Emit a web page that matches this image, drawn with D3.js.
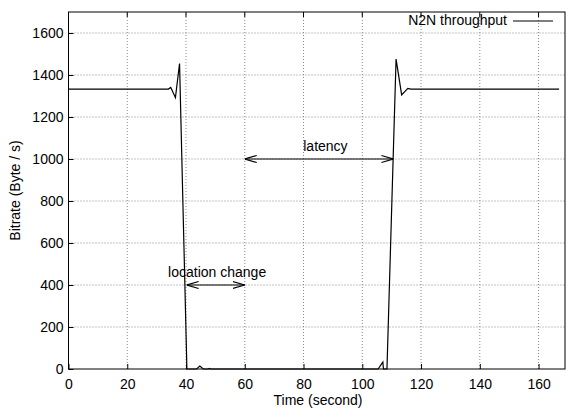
<!DOCTYPE html>
<html>
<head>
<meta charset="utf-8">
<script src="https://cdn.jsdelivr.net/npm/d3@7"></script>
<style>
  body { margin: 0; background: #fff; }
  svg { display: block; font-family: "Liberation Sans", Arial, sans-serif; }
</style>
</head>
<body>
<svg id="chart" width="566" height="409"></svg>
<script>
// N2N throughput over time
const times = [0, 34, 34.8, 36.4, 37.8, 40.3, 43.6, 44.7, 45.9, 47.6, 48, 48.4, 105.4, 107, 107.2, 108.4, 111.5, 113.4, 115.5, 116.5, 167];
const rates = [1333, 1333, 1341, 1292, 1455, 0, 0, 14, 0, 0, 3, 0, 0, 33, 0, 0, 1476, 1305, 1336, 1333, 1333];

const xTicks = [0, 20, 40, 60, 80, 100, 120, 140, 160];
const yTicks = [0, 200, 400, 600, 800, 1000, 1200, 1400, 1600];

// annotations: [x0, x1, y]
const latencyArrow = [60, 110.6, 1000];
const locationArrow = [40.2, 60, 400];

const svg = d3.select('#chart');
const margin = { left: 68.5, top: 12, right: 1, bottom: 40 };
const width = 566, height = 409;

const x = d3.scaleLinear().domain([0, 169]).range([margin.left, width - margin.right]);
const y = d3.scaleLinear().domain([0, 1700]).range([height - margin.bottom, margin.top]);

// grid
const grid = svg.append('g').attr('stroke', '#888').attr('stroke-dasharray', '1,2').attr('stroke-width', 1);
xTicks.slice(1).forEach(t => {
  grid.append('line').attr('x1', x(t)).attr('x2', x(t)).attr('y1', y(0)).attr('y2', y(1700));
});
yTicks.slice(1).forEach(t => {
  grid.append('line').attr('x1', x(0)).attr('x2', x(169)).attr('y1', y(t)).attr('y2', y(t));
});

// axes
const fmt = d3.format('d');
const xAxis = d3.axisBottom(x).tickValues(xTicks).tickFormat(fmt).tickSizeInner(-5).tickSizeOuter(0).tickPadding(10);
const yAxis = d3.axisLeft(y).tickValues(yTicks).tickFormat(fmt).tickSizeInner(-5).tickSizeOuter(0).tickPadding(5);
const gx = svg.append('g').attr('transform', `translate(0,${y(0)})`).call(xAxis);
const gy = svg.append('g').attr('transform', `translate(${x(0)},0)`).call(yAxis);
[gx, gy].forEach(g => {
  g.selectAll('text').attr('font-size', 14).attr('font-family', '"Liberation Sans", Arial, sans-serif').attr('fill', '#000');
  g.select('.domain').remove();
  g.selectAll('line').attr('stroke', '#000');
});
// mirrored ticks on top
xTicks.forEach(t => {
  svg.append('line').attr('x1', x(t)).attr('x2', x(t)).attr('y1', y(1700)).attr('y2', y(1700) + 5).attr('stroke', '#000');
});

// frame
svg.append('rect')
  .attr('x', x(0)).attr('y', y(1700))
  .attr('width', x(169) - x(0)).attr('height', y(0) - y(1700))
  .attr('fill', 'none').attr('stroke', '#000').attr('stroke-width', 1);

// data line
const line = d3.line().x((d, i) => x(times[i])).y(d => y(d));
svg.append('path')
  .datum(rates)
  .attr('d', line)
  .attr('fill', 'none')
  .attr('stroke', '#000')
  .attr('stroke-width', 1.2);

// arrows
const defs = svg.append('defs');
['start', 'end'].forEach(k => {
  defs.append('marker')
    .attr('id', 'head-' + k)
    .attr('viewBox', '0 0 12 10')
    .attr('refX', k === 'end' ? 12 : 0).attr('refY', 5)
    .attr('markerWidth', 12).attr('markerHeight', 10)
    .attr('markerUnits', 'userSpaceOnUse')
    .attr('orient', 'auto')
    .append('path')
    .attr('d', k === 'end' ? 'M0,1.5 L12,5 L0,8.5' : 'M12,1.5 L0,5 L12,8.5')
    .attr('fill', 'none').attr('stroke', '#000').attr('stroke-width', 1.2);
});
[latencyArrow, locationArrow].forEach(a => {
  svg.append('line')
    .attr('x1', x(a[0])).attr('x2', x(a[1]))
    .attr('y1', y(a[2])).attr('y2', y(a[2]))
    .attr('stroke', '#000').attr('stroke-width', 1.2)
    .attr('marker-start', 'url(#head-start)')
    .attr('marker-end', 'url(#head-end)');
});

svg.append('text').attr('x', x(79.9)).attr('y', y(1040)).attr('font-size', 14).text('latency');
svg.append('text').attr('x', x(33.9)).attr('y', y(440)).attr('font-size', 14).text('location change');

// legend
svg.append('text').attr('x', 507).attr('y', 25).attr('font-size', 14).attr('text-anchor', 'end').text('N2N throughput');
svg.append('line').attr('x1', 513).attr('x2', 553).attr('y1', 21).attr('y2', 21).attr('stroke', '#000').attr('stroke-width', 1.2);

// axis titles
svg.append('text').attr('x', 318).attr('y', 405).attr('font-size', 14).attr('text-anchor', 'middle').text('Time (second)');
svg.append('text')
  .attr('transform', `translate(20,${(y(0) + y(1700)) / 2}) rotate(-90)`)
  .attr('font-size', 14).attr('text-anchor', 'middle').text('Bitrate (Byte / s)');
</script>
</body>
</html>
